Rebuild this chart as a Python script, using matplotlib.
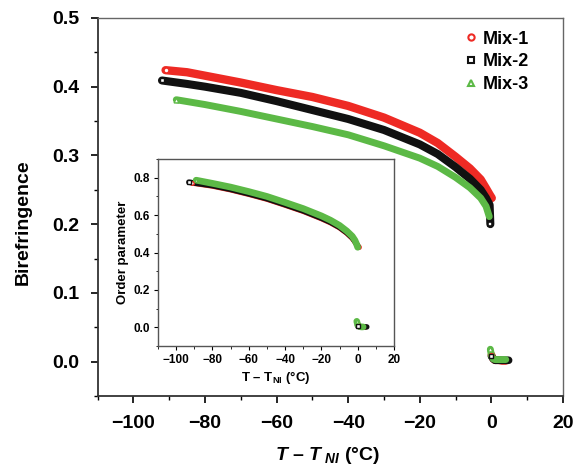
import matplotlib
matplotlib.use('Agg')
import matplotlib.pyplot as plt
from matplotlib.ticker import MultipleLocator

plt.rcParams['font.family'] = ['Liberation Sans', 'DejaVu Sans']
plt.rcParams['font.weight'] = 'bold'
plt.rcParams['mathtext.fontset'] = 'custom'
plt.rcParams['mathtext.rm'] = 'Liberation Sans:bold'
plt.rcParams['mathtext.it'] = 'Liberation Sans:bold:italic'
plt.rcParams['mathtext.bf'] = 'Liberation Sans:bold'

# Birefringence, nematic phase (T - T_NI in degC)
mix1_t = [-91, -85, -80, -70, -60, -50, -40, -30, -20, -15, -10, -6, -3, -1.5, -0.5, 0.1]
mix1_dn = [0.424, 0.421, 0.416, 0.406, 0.395, 0.385, 0.372, 0.355, 0.333, 0.318, 0.298, 0.281, 0.265, 0.252, 0.243, 0.238]
mix2_t = [-92, -85, -80, -70, -60, -50, -40, -30, -20, -15, -10, -6, -3, -1.5, -0.5, -0.3]
mix2_dn = [0.409, 0.404, 0.400, 0.391, 0.379, 0.366, 0.353, 0.337, 0.316, 0.302, 0.283, 0.266, 0.250, 0.238, 0.228, 0.200]
mix3_t = [-88, -80, -70, -60, -50, -40, -30, -20, -15, -10, -6, -3, -1.5, -0.6]
mix3_dn = [0.381, 0.374, 0.364, 0.353, 0.342, 0.330, 0.314, 0.296, 0.284, 0.268, 0.253, 0.238, 0.226, 0.211]

# Birefringence, isotropic phase
iso1_t = [0.0, 0.5, 1, 2, 3, 4]
iso1_dn = [0.010, 0.004, 0.002, 0.002, 0.001, 0.001]
iso2_t = [0.0, 0.5, 1, 2, 3, 4, 4.8]
iso2_dn = [0.008, 0.004, 0.002, 0.002, 0.002, 0.002, 0.002]
iso3_t = [-0.3, 0.0, 0.5, 1, 2, 3, 4]
iso3_dn = [0.018, 0.009, 0.004, 0.003, 0.003, 0.003, 0.003]

# Order parameter (inset)
s1_t = [-91, -80, -70, -60, -50, -40, -30, -20, -15, -10, -6, -3, -1.5, 0, 0.8]
s1 = [0.772, 0.756, 0.736, 0.712, 0.686, 0.654, 0.621, 0.582, 0.560, 0.533, 0.504, 0.477, 0.457, 0.436, 0.428]
s2_t = [-93, -80, -70, -60, -50, -40, -30, -20, -15, -10, -6, -3, -1.5, 0]
s2 = [0.776, 0.758, 0.738, 0.714, 0.688, 0.656, 0.623, 0.584, 0.562, 0.535, 0.506, 0.479, 0.459, 0.436]
s3_t = [-89, -80, -70, -60, -50, -40, -30, -20, -15, -10, -6, -3, -1.5, -0.5, 0]
s3 = [0.787, 0.770, 0.750, 0.726, 0.700, 0.668, 0.635, 0.596, 0.573, 0.545, 0.515, 0.487, 0.465, 0.442, 0.428]
siso1_t = [0, 1, 2, 3, 4]
siso1 = [0.010, 0.003, 0.002, 0.001, 0.001]
siso2_t = [0, 1, 2, 3, 4, 5]
siso2 = [0.008, 0.003, 0.002, 0.002, 0.002, 0.002]
siso3_t = [-0.5, 0, 1, 2, 3]
siso3 = [0.032, 0.012, 0.004, 0.002, 0.002]

red = '#ee2a24'
black = '#111111'
green = '#5cb946'


def band(ax, x, y, color, marker, lw, ms):
    ax.plot(x, y, '-', color=color, lw=lw, solid_capstyle='round', zorder=2)
    ax.plot(x[0], y[0], marker, mfc='white', mec=color, ms=ms, mew=1.0, zorder=3)


fig = plt.figure(figsize=(5.75, 4.72), dpi=100)
ax = fig.add_axes([0.1696, 0.161, 0.8096, 0.801])

band(ax, mix1_t, mix1_dn, red, 'o', 6.0, 3.5)
band(ax, iso1_t, iso1_dn, red, 'o', 5.5, 3)
band(ax, mix2_t, mix2_dn, black, 's', 5.8, 3.2)
band(ax, iso2_t, iso2_dn, black, 's', 5.5, 3)
band(ax, mix3_t, mix3_dn, green, '^', 5.0, 3.5)
band(ax, iso3_t, iso3_dn, green, '^', 5.0, 3.5)
ax.plot(mix2_t[-1], mix2_dn[-1], 's', mfc='white', mec=black, ms=3.2, mew=1.2, zorder=4)

# legend handles
ax.plot([], [], 'o', mfc='white', mec=red, ms=4.5, mew=1.5, label='Mix-1')
ax.plot([], [], 's', mfc='white', mec=black, ms=4.5, mew=1.5, label='Mix-2')
ax.plot([], [], '^', mfc='white', mec=green, ms=5, mew=1.5, label='Mix-3')
ax.legend(loc='upper right', bbox_to_anchor=(0.955, 1.0), frameon=False,
          handletextpad=0.15, handlelength=1.0, labelspacing=0.32, borderaxespad=0.3,
          prop={'weight': 'bold', 'size': 13})

ax.set_xlim(-110, 20)
ax.set_ylim(-0.05, 0.5)
ax.xaxis.set_major_locator(MultipleLocator(20))
ax.xaxis.set_minor_locator(MultipleLocator(10))
ax.yaxis.set_major_locator(MultipleLocator(0.1))
ax.yaxis.set_minor_locator(MultipleLocator(0.05))
ax.yaxis.set_major_formatter(plt.FuncFormatter(lambda v, p: f'{v:.1f}'))
ax.tick_params(which='major', direction='out', length=5, width=1.2, labelsize=14, pad=8)
ax.tick_params(which='minor', direction='out', length=3, width=1)
ax.tick_params(axis='x', which='major', pad=9)
for lab in ax.get_xticklabels() + ax.get_yticklabels():
    lab.set_fontweight('bold')
for side in ['left', 'bottom']:
    ax.spines[side].set_color('#333333')
    ax.spines[side].set_linewidth(1.3)
for side in ['top', 'right']:
    ax.spines[side].set_color('#666666')
    ax.spines[side].set_linewidth(1.0)

ax.set_ylabel('Birefringence', fontsize=14, fontweight='bold')
ax.set_xlabel(r'$T$ – $T_{\ NI}$ (°C)', fontsize=14, fontweight='bold')
ax.yaxis.set_label_coords(-0.141, 0.46)
ax.xaxis.set_label_coords(0.493, -0.13)

# inset: order parameter
ins = fig.add_axes([0.2748, 0.267, 0.4104, 0.396])
band(ins, s1_t, s1, red, 'o', 4.0, 2.5)
band(ins, s2_t, s2, black, 's', 4.0, 2.5)
band(ins, s3_t, s3, green, '^', 4.8, 2.5)
band(ins, siso1_t, siso1, red, 'o', 4.0, 2.5)
band(ins, siso2_t, siso2, black, 's', 4.0, 2.5)
band(ins, siso3_t, siso3, green, '^', 4.8, 2.5)
ins.set_xlim(-110, 20)
ins.set_ylim(-0.1, 0.9)
ins.xaxis.set_major_locator(MultipleLocator(20))
ins.xaxis.set_minor_locator(MultipleLocator(10))
ins.yaxis.set_major_locator(MultipleLocator(0.2))
ins.yaxis.set_minor_locator(MultipleLocator(0.1))
ins.yaxis.set_major_formatter(plt.FuncFormatter(lambda v, p: f'{v:.1f}'))
ins.tick_params(which='major', direction='out', length=3, width=0.8, labelsize=8.5, pad=3)
ins.tick_params(which='minor', direction='out', length=1.8, width=0.6)
for lab in ins.get_xticklabels() + ins.get_yticklabels():
    lab.set_fontweight('bold')
for side in ins.spines:
    ins.spines[side].set_color('#555555')
    ins.spines[side].set_linewidth(1.0)
ins.set_ylabel('Order parameter', fontsize=9.5, fontweight='bold', labelpad=3)
ins.set_xlabel(r'T – T$_{\mathrm{NI}}$ (°C)', fontsize=9.5, fontweight='bold', labelpad=2)

fig.savefig('out.png', dpi=100)
